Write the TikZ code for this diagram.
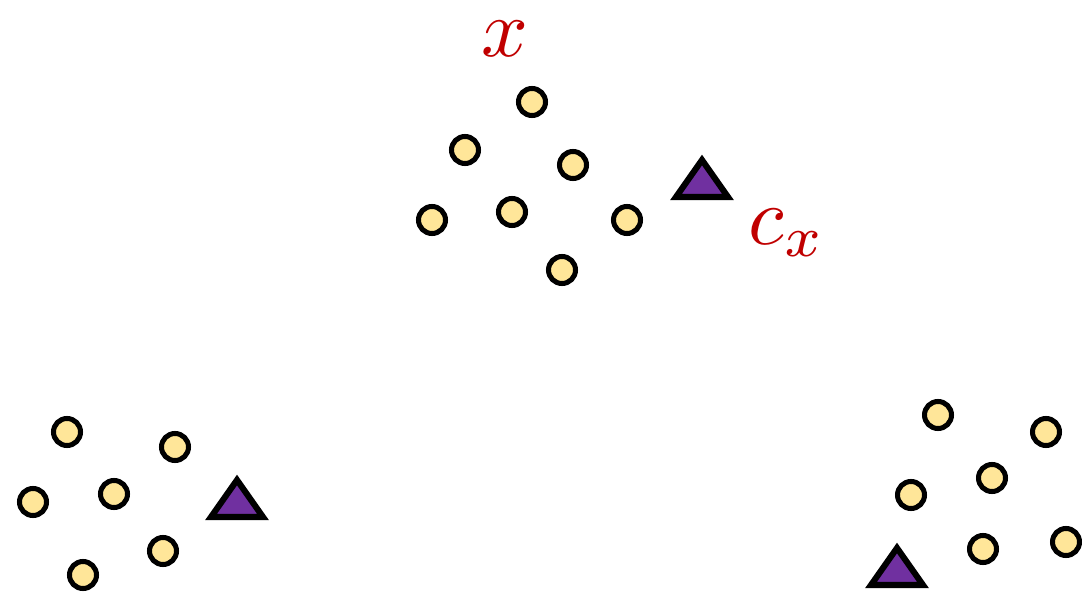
\documentclass[tikz,border=0pt]{standalone}
\usepackage{amsmath}
\usetikzlibrary{positioning}
\definecolor{pointyellow}{RGB}{255,230,153}
\definecolor{centroidpurple}{RGB}{112,48,160}
\definecolor{labelred}{RGB}{192,0,0}

\begin{document}
\begin{tikzpicture}[
    x=0.03cm, y=-0.03cm,
    line join=miter,
    pt/.style={circle, draw=black, fill=pointyellow, line width=4.3pt,
               minimum size=0.81cm, inner sep=0pt},
    lbl/.style={text=labelred, scale=7, inner sep=0pt, anchor=base west},
    centroid/.pic={
        \draw[fill=centroidpurple, line width=5.2pt] (-26,0) -- (26,0) -- (0,-37) -- cycle;
    },
]

% ── Canvas ──────────────────────────────────────────────────────────────────
\useasboundingbox (0,0) rectangle (1082,593);

% ── Top cluster ─────────────────────────────────────────────────────────────
\node[pt] (t1) at (532,102) {};
\node[pt] (t2) at (465,150) {};
\node[pt] (t3) at (573,165) {};
\node[pt] (t4) at (432,220) {};
\node[pt] (t5) at (512,212) {};
\node[pt] (t6) at (627,220) {};
\node[pt] (t7) at (562,270) {};
\pic at (702,197) {centroid};

% Labels
\node[lbl] (xlbl) at (480,57) {$x$};
\node[lbl] (clbl) at (747,244) {$c_x$};

% ── Bottom-left cluster ─────────────────────────────────────────────────────
\node[pt] (l1) at (67,432) {};
\node[pt] (l2) at (175,447) {};
\node[pt] (l3) at (33,502) {};
\node[pt] (l4) at (114,494) {};
\node[pt] (l5) at (163,551) {};
\node[pt] (l6) at (83,575) {};
\pic at (237,517) {centroid};

% ── Bottom-right cluster ────────────────────────────────────────────────────
\node[pt] (r1) at (938,415) {};
\node[pt] (r2) at (1046,432) {};
\node[pt] (r3) at (992,478) {};
\node[pt] (r4) at (911,495) {};
\node[pt] (r5) at (983,549) {};
\node[pt] (r6) at (1066,542) {};
\pic at (897,585) {centroid};

\end{tikzpicture}
\end{document}
